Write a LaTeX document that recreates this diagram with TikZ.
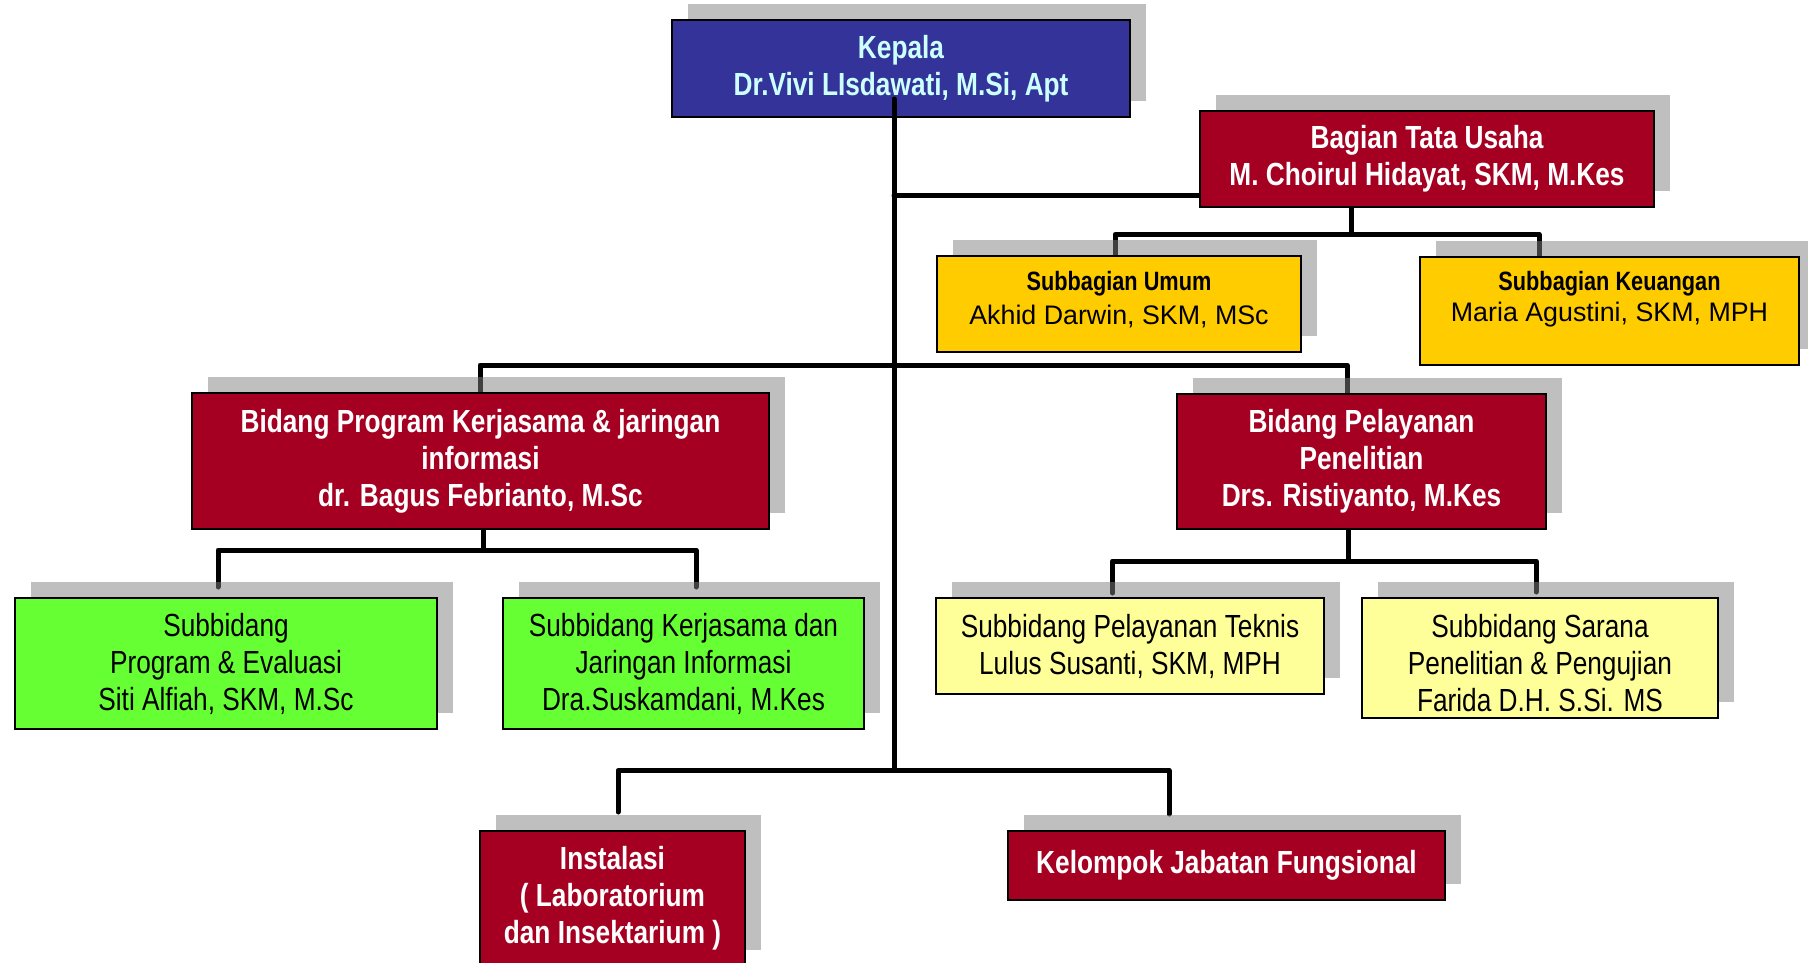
\documentclass[tikz,border=0pt]{standalone}
\usepackage{fontspec}
\setmainfont{Liberation Sans}
\newfontfamily\narrowf[FakeStretch=0.82]{Liberation Sans}
\definecolor{kblue}{HTML}{333399}
\definecolor{kcyan}{HTML}{CCFFFF}
\definecolor{kred}{HTML}{A50021}
\definecolor{kgold}{HTML}{FFCC00}
\definecolor{kgreen}{HTML}{66FF33}
\definecolor{kpale}{HTML}{FFFF99}
\newcommand\orgnode[7]{%
  \pgfmathsetmacro\ocx{(#2+#4)/2}\pgfmathsetmacro\ocy{(#3+#5)/2}%
  \pgfmathsetmacro\ow{#4-#2}\pgfmathsetmacro\oh{#5-#3}%
  \fill[shadowfill] (#2+16,#3-16) rectangle (#4+16,#5-16);
  \node[orgbox,#6,minimum width=\ow pt,minimum height=\oh pt] (#1) at (\ocx,\ocy) {#7};
}
\begin{document}
\begin{tikzpicture}[x=1pt,y=-1pt,
  orgbox/.style={draw=black, line width=2pt, rectangle, inner sep=0pt, outer sep=0pt, align=center},
  shadowfill/.style={fill=black!50, fill opacity=0.5},
  redbox/.style={fill=kred, text=white, font=\narrowf\bfseries\fontsize{32}{37}\selectfont},
  bluebox/.style={fill=kblue, text=kcyan, font=\narrowf\bfseries\fontsize{32}{37}\selectfont},
  goldbox/.style={fill=kgold},
  greenbox/.style={fill=kgreen, font=\narrowf\fontsize{32}{37}\selectfont},
  palebox/.style={fill=kpale, font=\narrowf\fontsize{32}{37}\selectfont},
  plaintext/.style={inner sep=0pt, align=center, font=\narrowf\fontsize{32}{37}\selectfont},
  subtitle/.style={anchor=base, inner sep=0pt, font=\narrowf\bfseries\fontsize{26.5}{30}\selectfont},
  subname/.style={anchor=base, inner sep=0pt, font=\fontsize{26.8}{30}\selectfont},
  conn/.style={line width=5pt, line cap=round, line join=round}]
\useasboundingbox (0,0) rectangle (1808,963);
\clip (0,0) rectangle (1808,963);

% top box
\orgnode{kepala}{672}{20}{1130}{117}{bluebox}{Kepala\\Dr.Vivi LIsdawati, M.Si, Apt}

% junction coordinates
\coordinate (spineTop) at (894,99);
\coordinate (spineBot) at (894,770.5);
\coordinate (jTU) at (894,195.5);
\coordinate (xTU) at (1351,0);
\coordinate (yTU) at (0,234.5);
\coordinate (xUm) at (1115,0);
\coordinate (xKe) at (1539,0);
\coordinate (yBid) at (0,365);
\coordinate (xBP) at (480,0);
\coordinate (xBL) at (1347,0);
\coordinate (xBPd) at (483.5,0);
\coordinate (yBP2) at (0,550);
\coordinate (xPE) at (218,0);
\coordinate (xKJ) at (696,0);
\coordinate (xBLd) at (1348,0);
\coordinate (yBL2) at (0,561);
\coordinate (xTK) at (1112.5,0);
\coordinate (xSR) at (1536,0);
\coordinate (xIN) at (618,0);
\coordinate (xKL) at (1169,0);

% connectors
\draw[conn] (spineTop) -- (spineBot);
\draw[conn] (jTU) -- (1200,195.5) coordinate (tuW);
\draw[conn] (xTU |- 0,207) coordinate (tuS) -- (xTU |- yTU);
\draw[conn] (xUm |- 0,255) coordinate (umN) -- (xUm |- yTU) -- (xKe |- yTU) -- (xKe |- 0,256) coordinate (keN);
\draw[conn] (xBP |- 0,392) coordinate (bpN) -- (xBP |- yBid) -- (xBL |- yBid) -- (xBL |- 0,393) coordinate (blN);
\draw[conn] (xBPd |- 0,529) coordinate (bpS) -- (xBPd |- yBP2);
\draw[conn] (xPE |- 0,587) coordinate (peN) -- (xPE |- yBP2) -- (xKJ |- yBP2) -- (xKJ |- 0,587) coordinate (kjN);
\draw[conn] (xBLd |- 0,529) coordinate (blS) -- (xBLd |- yBL2);
\draw[conn] (xTK |- 0,593) coordinate (tkN) -- (xTK |- yBL2) -- (xSR |- yBL2) -- (xSR |- 0,592) coordinate (srN);
\draw[conn] (xIN |- 0,812) coordinate (inN) -- (xIN |- spineBot) -- (xKL |- spineBot) -- (xKL |- 0,814) coordinate (klN);

% boxes
\orgnode{tu}{1200}{111}{1654}{207}{redbox}{Bagian Tata Usaha\\M. Choirul Hidayat, SKM, M.Kes}
\orgnode{umum}{937}{256}{1301}{352}{goldbox}{}
\node[subtitle] (umumT) at (1119,290) {Subbagian Umum};
\node[subname] (umumN) at (1119,324) {Akhid Darwin, SKM, MSc};
\orgnode{keu}{1420}{257}{1799}{365}{goldbox}{}
\node[subtitle] (keuT) at (1609.5,290) {Subbagian Keuangan};
\node[subname] (keuN) at (1609.5,321) {Maria Agustini, SKM, MPH};

\orgnode{bprog}{192}{393}{769}{529}{redbox}{Bidang Program Kerjasama \& jaringan\\informasi\\dr. Bagus Febrianto, M.Sc}
\orgnode{bpel}{1177}{394}{1546}{529}{redbox}{Bidang Pelayanan\\Penelitian\\Drs. Ristiyanto, M.Kes}

\orgnode{pe}{15}{598}{437}{729}{greenbox}{Subbidang\\Program \& Evaluasi\\Siti Alfiah, SKM, M.Sc}
\orgnode{kji}{503}{598}{864}{729}{greenbox}{Subbidang Kerjasama dan\\Jaringan Informasi\\Dra.Suskamdani, M.Kes}
\orgnode{tk}{936}{598}{1324}{694}{palebox}{Subbidang Pelayanan Teknis\\Lulus Susanti, SKM, MPH}
\orgnode{sr}{1362}{598}{1718}{718}{palebox}{}
\node[plaintext] (srT) at (1540,663) {Subbidang Sarana\\Penelitian \& Pengujian\\Farida D.H. S.Si. MS};

\orgnode{inst}{480}{831}{745}{966}{redbox}{Instalasi\\( Laboratorium\\dan Insektarium )}
\orgnode{kel}{1008}{831}{1445}{900}{redbox}{Kelompok Jabatan Fungsional}
\end{tikzpicture}
\end{document}
